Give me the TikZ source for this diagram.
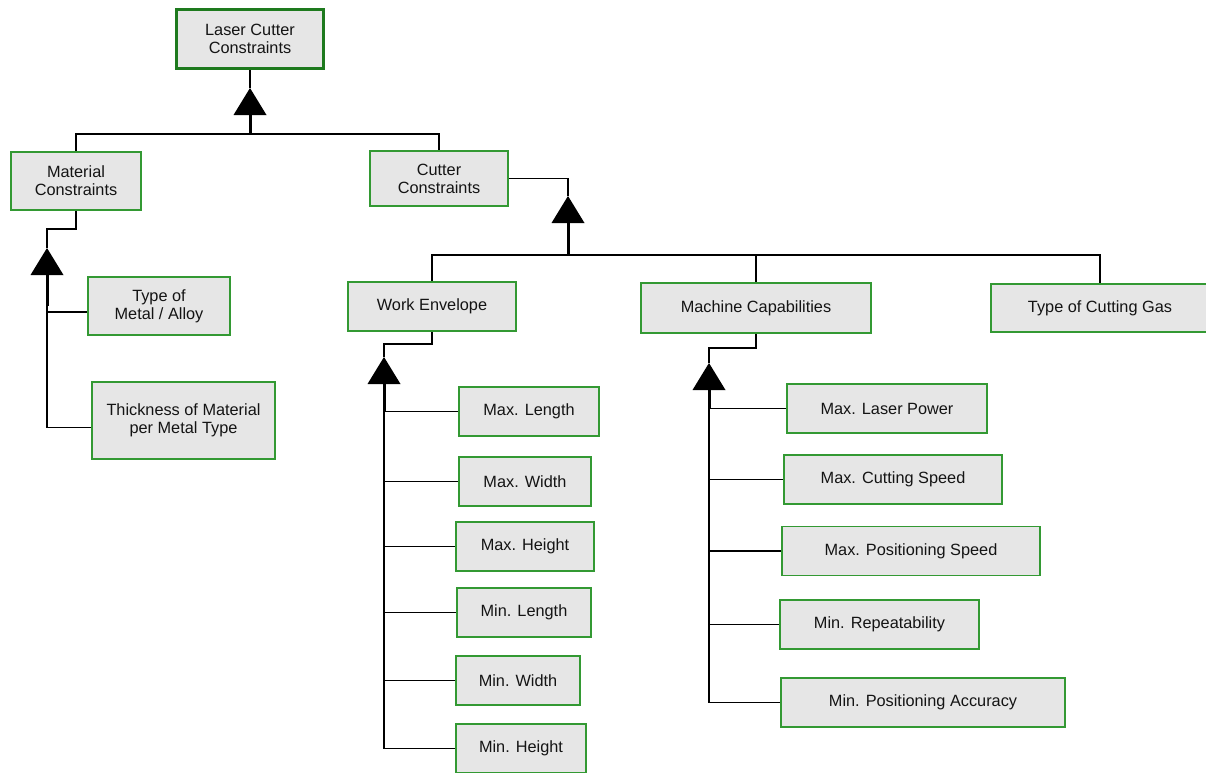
\documentclass[tikz,border=0pt]{standalone}
\usepackage{fontspec}
\setmainfont{Liberation Sans}
\definecolor{boxfill}{HTML}{E6E6E6}
\definecolor{boxline}{HTML}{339933}
\definecolor{rootline}{HTML}{1E7A1E}
% filled generalisation triangle, apex at #1
\newcommand\gen[1]{\fill (#1) -- ++(-16.5,27) -- ++(33,0) -- cycle;}

\begin{document}
\begin{tikzpicture}[x=1pt,y=-1pt,
  box/.style={draw=boxline,line width=1.8pt,fill=boxfill,align=center,inner sep=0pt,
    text=black!92,font=\fontsize{16.3}{18}\selectfont},
  link/.style={line width=1.9pt},
  trunk/.style={line width=2.4pt},
  stem/.style={line width=3pt}]
\useasboundingbox (0,0) rectangle (1206,772);

\node[box,draw=rootline,line width=3pt,minimum width=147,minimum height=59] (root) at (250,39) {Laser Cutter\\Constraints};
\node[box,minimum width=130,minimum height=58] (mat) at (76,181) {Material\\Constraints};
\node[box,minimum width=138,minimum height=55] (cut) at (439,178.5) {Cutter\\Constraints};

\node[box,minimum width=142,minimum height=58] (metal) at (159,306) {Type of\\Metal / Alloy};
\node[box,minimum width=183,minimum height=77] (thick) at (183.5,420.5) {Thickness of Material\\per Metal Type};

\node[box,minimum width=168,minimum height=49] (work) at (432,306.5) {Work Envelope};
\node[box,minimum width=230,minimum height=50] (mach) at (756,308) {Machine Capabilities};
\node[box,minimum width=218,minimum height=48] (gas) at (1100,308) {Type of Cutting Gas};

% work envelope
\foreach \n/\x/\y/\w/\t in {maxlen/529/411.5/140/Max. Length,maxwid/525/481.5/132/Max. Width,
  maxhei/525/546.5/138/Max. Height,minlen/524/612.5/134/Min. Length,
  minwid/518/680.5/124/Min. Width,minhei/521/748.5/130/Min. Height}
  \node[box,minimum width=\w,minimum height=49] (\n) at (\x,\y) {\t};

% machine capabilities
\foreach \n/\x/\y/\w/\t in {laser/887/408.5/200/Max. Laser Power,cspeed/893/479.5/218/Max. Cutting Speed,
  pspeed/911/551/258/Max. Positioning Speed,repeat/879.5/624.5/199/Min. Repeatability,
  accur/923/702.5/284/Min. Positioning Accuracy}
  \node[box,minimum width=\w,minimum height=49] (\n) at (\x,\y) {\t};

% triangles (apex / base)
\coordinate (g1) at (250,88);  \coordinate (g1b) at (250,115);
\coordinate (g2) at (47,248);  \coordinate (g2b) at (47,275);
\coordinate (g3) at (568,196); \coordinate (g3b) at (568,223);
\coordinate (g4) at (384,357); \coordinate (g4b) at (384,384);
\coordinate (g5) at (709,363); \coordinate (g5b) at (709,390);
\coordinate (b1) at (250,134);
\coordinate (b3) at (568,255);
\foreach \g in {g1,g2,g3,g4,g5}\gen{\g};

% root
\draw[link] (root.south) -- (g1);
\draw[stem] (g1b) -- (b1);
\draw[link] (b1) -| (mat.north);
\draw[link] (b1) -| (cut.north);

% material
\draw[link] (mat.south) -- ++(0,18) -| (g2);
\draw[trunk] (g2b) -- (g2b |- thick.west);
\draw[stem] (g2b) -- (g2b |- metal.west);
\draw[link] (g2b) |- ([yshift=-6pt]metal.west);
\draw[link] (g2b) |- ([yshift=-7pt]thick.west);

% cutter
\draw[link] (cut.east) -| (g3);
\draw[stem] (g3b) -- (b3);
\foreach \n in {work,mach,gas}\draw[link] (b3) -| (\n.north);

\draw[link] (work.south) -- ++(0,12) -| (g4);
\draw[trunk] (g4b) -- (g4b |- minhei.west);
\draw[stem] (g4b) -- (g4b |- maxlen.west);
\foreach \n in {maxlen,maxwid,maxhei,minlen,minwid,minhei}\draw[link] (g4b) |- (\n.west);

\draw[link] (mach.south) -- ++(0,14) -| (g5);
\draw[trunk] (g5b) -- (g5b |- accur.west);
\draw[stem] (g5b) -- (g5b |- laser.west);
\foreach \n in {laser,cspeed,pspeed,repeat,accur}\draw[link] (g5b) |- (\n.west);
\end{tikzpicture}
\end{document}
